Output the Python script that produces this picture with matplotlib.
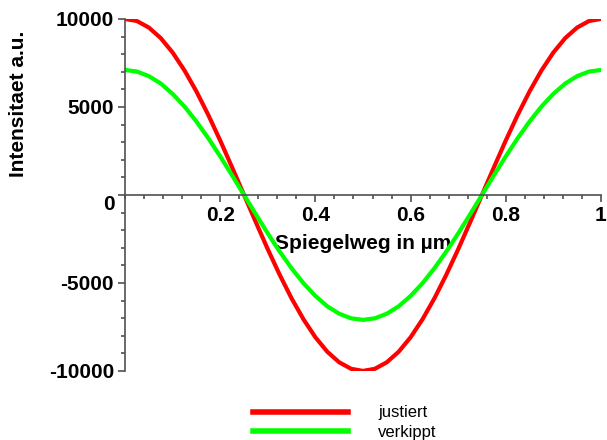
import numpy as np
import matplotlib.pyplot as plt
from matplotlib.ticker import MultipleLocator

plt.rcParams['font.family'] = ['Liberation Sans', 'DejaVu Sans']

# Spiegelweg in µm, Abtastung alle 0.025
weg = np.linspace(0, 1, 41)

# Intensitaet justiert (rot) und verkippt (gruen)
justiert = [10000, 9880, 9510, 8910, 8090, 7070, 5880, 4540, 3090, 1560, 0,
            -1560, -3090, -4540, -5880, -7070, -8090, -8910, -9510, -9880, -10000,
            -9880, -9510, -8910, -8090, -7070, -5880, -4540, -3090, -1560, 0,
            1560, 3090, 4540, 5880, 7070, 8090, 8910, 9510, 9880, 10000]
verkippt = [7100, 7010, 6750, 6330, 5740, 5020, 4170, 3220, 2190, 1110, 0,
            -1110, -2190, -3220, -4170, -5020, -5740, -6330, -6750, -7010, -7100,
            -7010, -6750, -6330, -5740, -5020, -4170, -3220, -2190, -1110, 0,
            1110, 2190, 3220, 4170, 5020, 5740, 6330, 6750, 7010, 7100]

x_ticks = [0.2, 0.4, 0.6, 0.8, 1]
x_labels = ['0.2', '0.4', '0.6', '0.8', '1']
y_ticks = [-10000, -5000, 0, 5000, 10000]
y_labels = ['-10000', '-5000', '', '5000', '10000']

fig = plt.figure(figsize=(6.07, 4.4), dpi=100)
ax = fig.add_axes([0.206, 0.157, 0.784, 0.8])

ax.plot(weg, justiert, color='#ff0000', lw=3, label='justiert')
ax.plot(weg, verkippt, color='#00ff00', lw=3, label='verkippt')

ax.set_xlim(0, 1)
ax.set_ylim(-10000, 10000)

# Achsen durch den Nullpunkt
ax.spines['bottom'].set_position(('data', 0))
ax.spines['top'].set_visible(False)
ax.spines['right'].set_visible(False)
for s in ('left', 'bottom'):
    ax.spines[s].set_color('#505050')
    ax.spines[s].set_linewidth(1.2)

ax.set_xticks(x_ticks)
ax.set_xticklabels(x_labels)
ax.set_yticks(y_ticks)
ax.set_yticklabels(y_labels)
ax.xaxis.set_minor_locator(MultipleLocator(0.04))
ax.yaxis.set_minor_locator(MultipleLocator(1000))
ax.tick_params(which='major', length=5, width=1.2, color='#505050', pad=3,
               labelsize=15)
ax.tick_params(which='minor', length=3, width=1.2, color='#505050')
for lab in ax.get_xticklabels() + ax.get_yticklabels():
    lab.set_fontweight('bold')

# die Null der y-Achse sitzt etwas unterhalb der x-Achse
ax.text(-0.022, 0, '0', transform=ax.get_yaxis_transform(), ha='right',
        va='top', fontsize=15, fontweight='bold')

ax.set_xlabel('Spiegelweg in µm', fontsize=15, fontweight='bold', zorder=5)
ax.xaxis.set_label_coords(0.5, 0.39)
ax.set_ylabel('Intensitaet a.u.', fontsize=15, fontweight='bold')
ax.yaxis.set_label_coords(-0.204, 0.76)

leg = ax.legend(loc='upper left', bbox_to_anchor=(0.269, -0.098), frameon=False,
                fontsize=12, handlelength=5.7, handletextpad=1.8,
                labelspacing=0.25, borderpad=0, borderaxespad=0)
for line in leg.get_lines():
    line.set_linewidth(4)

fig.savefig('out.png', dpi=100)
